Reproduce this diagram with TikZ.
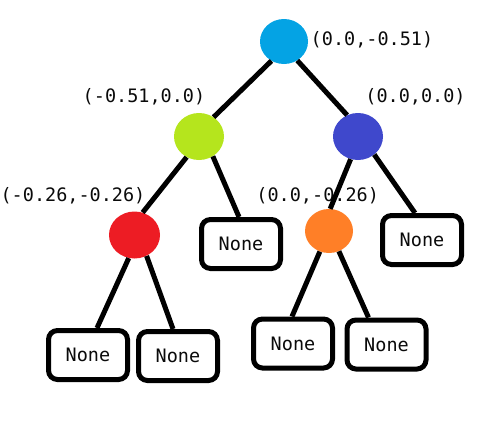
\documentclass[tikz,border=0pt]{standalone}
\usepackage{fontspec}
\setmonofont{DejaVu Sans Mono}
\usetikzlibrary{shapes.geometric,calc}
\definecolor{cRoot}{RGB}{4,163,228}
\definecolor{cGreen}{RGB}{181,229,29}
\definecolor{cBlue}{RGB}{63,72,204}
\definecolor{cRed}{RGB}{237,28,36}
\definecolor{cOrange}{RGB}{255,127,39}
\definecolor{cText}{RGB}{10,10,10}
\tikzset{
  tnode/.style={ellipse,inner sep=0pt,draw=none},
  leafbox/.style={draw=black,line width=5pt,rounded corners=9pt,fill=white,
    minimum width=79pt,minimum height=49pt,inner sep=0pt,
    font=\ttfamily\fontsize{18.5}{22}\selectfont,text=cText},
  lbl/.style={inner sep=0pt,font=\ttfamily\fontsize{18.5}{22}\selectfont,text=cText},
  edge/.style={line width=5pt,draw=black}
}
\begin{document}
\begin{tikzpicture}[x=1pt,y=-1pt]
\useasboundingbox (0,0) rectangle (485,423);
% tree nodes
\node[tnode,fill=cRoot,minimum width=48pt,minimum height=45pt] (root) at (284,41.5) {};
\node[tnode,fill=cGreen,minimum width=50pt,minimum height=47pt] (green) at (199,136.5) {};
\node[tnode,fill=cBlue,minimum width=50pt,minimum height=47pt] (blue) at (358,136.5) {};
\node[tnode,fill=cRed,minimum width=51pt,minimum height=47pt] (red) at (134.5,235) {};
\node[tnode,fill=cOrange,minimum width=48pt,minimum height=44pt] (orange) at (329,231) {};
% leaves
\node[leafbox] (b1) at (241,244) {None};
\node[leafbox] (b2) at (422,240) {None};
\node[leafbox] (b3) at (88,355) {None};
\node[leafbox] (b4) at (178,356) {None};
\node[leafbox] (b5) at (293,343.5) {None};
\node[leafbox] (b6) at (386.5,344.5) {None};
% labels
\node[lbl] (lroot) at (372,39.5) {(0.0,-0.51)};
\node[lbl] (lgreen) at (144,97) {(-0.51,0.0)};
\node[lbl] (lblue) at (415.5,97) {(0.0,0.0)};
\node[lbl] (lred) at (73,196) {(-0.26,-0.26)};
\node[lbl] (lorange) at (317.7,196) {(0.0,-0.26)};
% edges
\draw[edge] (root.-123) -- (green.53);
\draw[edge] (root.-55) -- (blue.117);
\draw[edge] (green.-121) -- (red.70);
\draw[edge] (green.-55) -- ($(b1.north)+(-2,0)$);
\draw[edge] (blue.-108) -- (orange.87);
\draw[edge] (blue.-48) -- ($(b2.north)+(-7,0)$);
\draw[edge] (red.-104) -- ($(b3.north)+(9,0)$);
\draw[edge] (red.-60) -- ($(b4.north)+(-5,0)$);
\draw[edge] (orange.-114) -- ($(b5.north)+(-1,0)$);
\draw[edge] (orange.-64) -- ($(b6.north)+(-18,0)$);
\end{tikzpicture}
\end{document}
